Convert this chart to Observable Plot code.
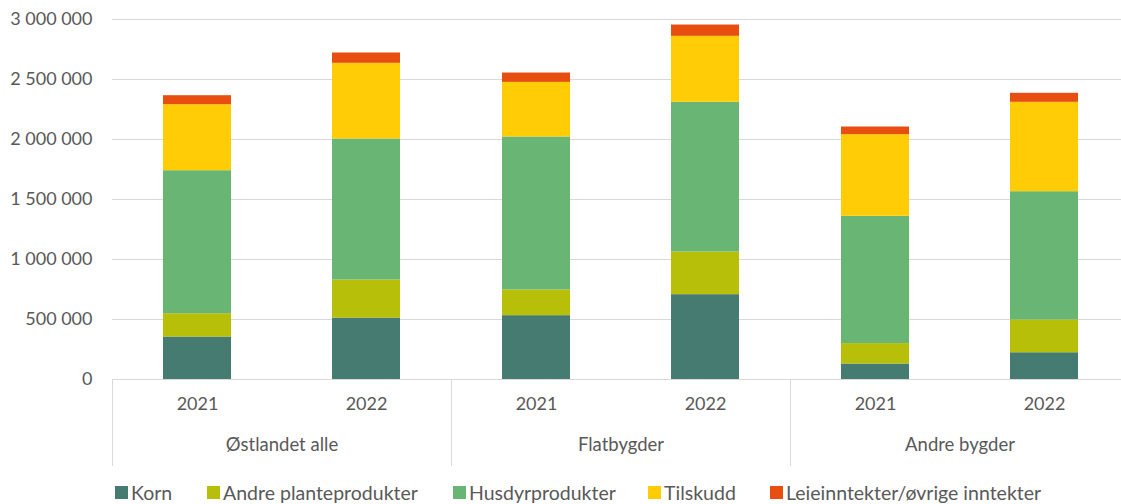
<!DOCTYPE html>
<html>
<head>
<meta charset="utf-8">
<script src="https://cdn.jsdelivr.net/npm/d3@7"></script>
<script src="https://cdn.jsdelivr.net/npm/@observablehq/plot@0.6"></script>
<style>
  body { margin: 0; background: #fff; font-family: Lato, "Open Sans", sans-serif; }
  #chart { position: relative; width: 1121px; }
  .legend { position: relative; height: 44px; font-size: 19.5px; color: #595959; }
  .legend .item { position: absolute; top: 0; height: 44px; display: flex; align-items: center; white-space: nowrap; }
  .legend .sw { width: 13px; height: 13px; margin-right: 3px; display: inline-block; }
</style>
</head>
<body>
<div id="chart"></div>
<script>
const groups = ["Østlandet alle", "Flatbygder", "Andre bygder"];
const years = ["2021", "2022"];
const series = ["Korn", "Andre planteprodukter", "Husdyrprodukter", "Tilskudd", "Leieinntekter/øvrige inntekter"];
const colors = ["#457b71", "#b7bf08", "#69b573", "#ffcc05", "#e84e0f"];
// values in order: Østlandet 2021, 2022, Flatbygder 2021, 2022, Andre bygder 2021, 2022
const korn     = [354000, 512000, 532000, 707000, 129000, 223000];
const andre    = [194000, 317000, 214000, 355000, 170000, 273000];
const husdyr   = [1192000, 1175000, 1275000, 1248000, 1061000, 1069000];
const tilskudd = [550000, 631000, 455000, 550000, 680000, 745000];
const leie     = [75000, 86000, 78000, 94000, 64000, 75000];
const yTicks = [0, 500000, 1000000, 1500000, 2000000, 2500000, 3000000];

const seriesValues = [korn, andre, husdyr, tilskudd, leie];
const rows = [];
groups.forEach((g, gi) => {
  years.forEach((yr, yi) => {
    const idx = gi * years.length + yi;
    series.forEach((s, si) => {
      rows.push({group: g, year: yr, series: s, value: seriesValues[si][idx]});
    });
  });
});

const fmt = d3.formatLocale({decimal: ",", thousands: " ", grouping: [3], currency: ["", ""]}).format(",");

const plot = Plot.plot({
  width: 1121,
  height: 470,
  marginLeft: 112,
  marginRight: -8,
  marginTop: 19,
  marginBottom: 91,
  style: {fontFamily: "Lato, 'Open Sans', sans-serif", color: "#595959", background: "#fff"},
  fx: {domain: groups, padding: 0, label: null},
  x: {domain: years, paddingInner: 0.6, paddingOuter: 0.3, label: null},
  y: {domain: [0, 3000000], label: null},
  color: {domain: series, range: colors},
  marks: [
    Plot.gridY(yTicks, {stroke: "#d9d9d9", strokeOpacity: 1, strokeWidth: 1}),
    Plot.barY(rows, {fx: "group", x: "year", y: "value", fill: "series"}),
    Plot.axisY(yTicks, {tickSize: 0, tickPadding: 20, tickFormat: fmt, fontSize: 18, label: null}),
    Plot.axisX({anchor: "bottom", tickSize: 0, tickPadding: 18, fontSize: 18, label: null}),
    Plot.axisFx({anchor: "bottom", tickSize: 0, tickPadding: 58, fontSize: 18.5, label: null})
  ]
});

// category separators, positioned from the fx and y scales
const fxs = plot.scale("fx");
const ys = plot.scale("y");
const y0 = ys.apply(0);
const bounds = groups.map(g => fxs.apply(g));
bounds.push(fxs.apply(groups[groups.length - 1]) + fxs.bandwidth);
d3.select(plot).append("g")
  .attr("stroke", "#d9d9d9")
  .selectAll("line")
  .data(bounds)
  .join("line")
  .attr("x1", d => Math.round(d) + 0.5)
  .attr("x2", d => Math.round(d) + 0.5)
  .attr("y1", y0)
  .attr("y2", y0 + 87);

const chart = document.getElementById("chart");
chart.appendChild(plot);

// legend item left edges (layout)
const legendLeft = [115, 207, 453, 648, 770];
const legend = document.createElement("div");
legend.className = "legend";
series.forEach((s, i) => {
  const item = document.createElement("div");
  item.className = "item";
  item.style.left = legendLeft[i] + "px";
  const sw = document.createElement("span");
  sw.className = "sw";
  sw.style.background = colors[i];
  const t = document.createElement("span");
  t.textContent = s;
  item.appendChild(sw);
  item.appendChild(t);
  legend.appendChild(item);
});
chart.appendChild(legend);
</script>
</body>
</html>
